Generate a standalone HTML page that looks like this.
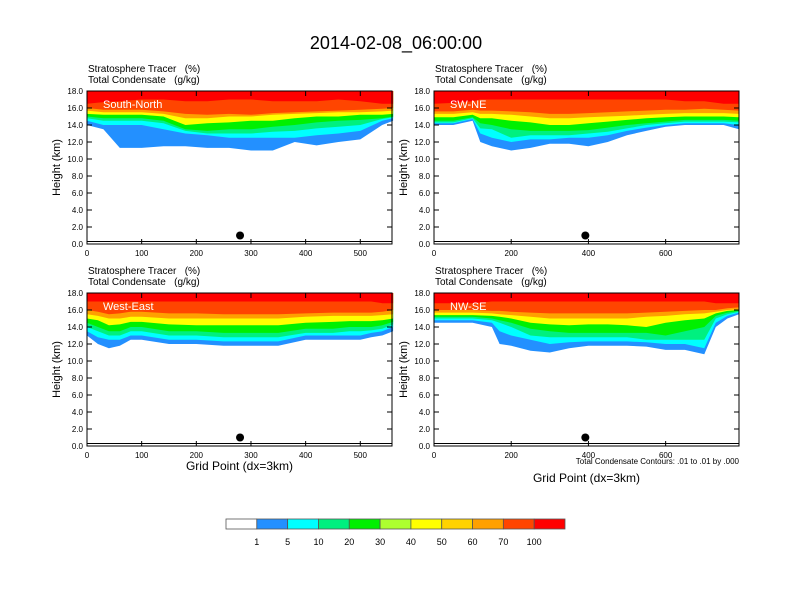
<!DOCTYPE html>
<html><head><meta charset="utf-8">
<style>
body{margin:0;background:#fff;}
svg{display:block;font-family:"Liberation Sans",Arial,sans-serif;}
text{white-space:pre;}
</style></head>
<body>
<svg id="chart" width="792" height="612" viewBox="0 0 792 612">
<text x="396" y="49" text-anchor="middle" font-size="18">2014-02-08_06:00:00</text>
</svg>
<script>
const levels=[1,5,10,20,40,60,70,100];
const levelColors=["#2390ff","#00ffff","#00f07f","#00f000","#ffff00","#ffa000","#ff4500","#ff0000"];
const cbLabels=["1","5","10","20","30","40","50","60","70","100"];
const cbColors=["#ffffff","#2390ff","#00ffff","#00f07f","#00f000","#adff2f","#ffff00","#ffd200","#ffa000","#ff4500","#ff0000"];
const yTicks=[0,2,4,6,8,10,12,14,16,18];

const tlX=[0,30,60,100,140,180,220,260,300,340,380,420,460,500,540,560];
const tlL=[
[14,13.5,11.3,11.3,11.5,11.5,11.3,11.3,11,11,12,11.6,12,12.3,14,14.5],
[14.5,14,14,14,13.5,13,12.8,12.5,12.5,12.5,12.5,12.8,13,13.3,14.5,14.8],
[14.8,14.5,14.5,14.5,14.2,13.3,13,13,13,13.2,13.3,13.6,13.8,14,14.7,14.9],
[15,14.8,14.8,14.8,14.5,13.5,13.3,13.5,13.5,13.8,14,14.3,14.5,14.6,14.8,15],
[15.3,15.2,15.2,15.2,15,14,14.2,14.3,14.5,14.5,14.8,15,15,15.2,15.2,15.3],
[15.7,15.5,15.5,15.5,15.3,14.8,14.8,15,15,15.2,15.3,15.4,15.5,15.5,15.6,15.7],
[16,15.8,15.8,15.8,15.6,15.3,15.2,15.3,15.2,15.4,15.5,15.6,15.7,15.8,15.9,16],
[16.5,16.7,16.8,17,17,16.8,16.8,17,17,16.8,16.8,16.8,17,16.8,16.5,16.5]];

const trX=[0,50,100,120,150,200,250,300,350,400,450,500,550,600,650,700,750,790];
const trL=[
[14,14,14.5,12,11.5,11,11.3,11.8,11.8,11.5,12,12.8,13.3,13.8,14,14,14,13.5],
[14.2,14.2,14.7,13,12.5,12,12.3,12.3,12.5,12.5,12.8,13.3,13.7,14,14.2,14.2,14.2,14],
[14.3,14.3,14.8,13.6,13.5,12.5,12.8,12.8,12.8,13,13.2,13.6,14,14.2,14.4,14.4,14.4,14.3],
[14.5,14.5,14.9,14.2,14,13.5,13.3,13.3,13.3,13.4,13.7,14,14.2,14.4,14.6,14.6,14.6,14.5],
[14.9,14.9,15.2,14.8,14.8,14.5,14.3,14,14,14.2,14.4,14.6,14.8,14.9,15,15,15,14.9],
[15.3,15.3,15.5,15.3,15.3,15.2,15,14.8,14.8,14.9,15,15.1,15.2,15.3,15.4,15.4,15.4,15.3],
[15.6,15.6,15.8,15.7,15.7,15.6,15.5,15.3,15.3,15.4,15.5,15.6,15.7,15.8,15.8,15.9,15.8,15.7],
[16.5,16.6,16.8,17,17,17,17,17,17,17,17,17,17,17,16.8,16.8,16.5,16.5]];

const blX=[0,20,40,60,80,100,150,200,250,300,350,400,450,480,500,520,540,560];
const blL=[
[13,12,11.5,11.8,12.5,12.5,12,12,11.8,11.8,11.8,12.5,12.5,12.5,12.5,12.8,13,13.5],
[13.5,12.8,12.5,12.5,13,13,12.5,12.5,12.3,12.3,12.3,13,13,13,13,13.3,13.5,14],
[14,13.5,13,13,13.5,13.5,13,13,12.8,12.8,12.8,13.3,13.3,13.5,13.5,13.6,13.8,14.3],
[14.5,14,13.5,13.5,14,14,13.5,13.5,13.3,13.3,13.3,13.8,13.8,14,14,14,14.2,14.6],
[15,14.8,14.2,14.3,14.6,14.6,14.3,14.2,14.2,14.2,14.2,14.5,14.6,14.7,14.7,14.7,14.8,15],
[15.5,15.3,15,15,15.2,15.2,15,15,15,15,15,15.2,15.3,15.3,15.3,15.3,15.4,15.5],
[16,15.8,15.5,15.6,15.8,15.8,15.6,15.6,15.5,15.5,15.5,15.6,15.7,15.7,15.7,15.7,15.8,16],
[17,17,17,17,17,17,17,17,17,17,17,17,17,17,17,17,16.8,16.8]];

const brX=[0,100,150,170,200,250,300,350,400,450,500,550,600,650,700,730,760,790];
const brL=[
[14.5,14.5,14,12,11.8,11.2,11,11.5,11.8,11.8,11.8,11.7,11.3,11.3,10.8,14,15,15.5],
[14.8,14.8,14.5,13.5,13,12.5,12,12.2,12.3,12.3,12.3,12.2,12,12,11.5,14.5,15.3,15.7],
[15,15,14.8,14.5,14,13,12.8,12.8,12.8,12.8,12.8,12.5,12.5,12.5,12.5,15,15.5,15.8],
[15.2,15.2,15,14.8,14.5,13.8,13.5,13.3,13.3,13.3,13.3,13.3,13,13.5,14,15.3,15.7,15.9],
[15.4,15.4,15.3,15.2,15,14.5,14.3,14.2,14.3,14.3,14.2,14,14.5,14.8,15,15.6,15.9,16],
[15.7,15.7,15.6,15.5,15.4,15.2,15,15,15,15,15,15.2,15.3,15.5,15.6,15.8,16,16.1],
[16,16,15.9,15.9,15.8,15.7,15.6,15.6,15.6,15.6,15.6,15.7,15.8,15.9,16,16,16.2,16.3],
[16.8,16.8,17,17,17,17,17,17,17,17,17,17,17,17,17,16.8,16.8,16.8]];

const panels=[
 {name:"south-north",label:"South-North",x0:87,x1:392,y0:91,y1:244,xmax:558,ticks:[0,100,200,300,400,500],xs:tlX,L:tlL,dot:280,xtitle:null},
 {name:"sw-ne",label:"SW-NE",x0:434,x1:739,y0:91,y1:244,xmax:790,ticks:[0,200,400,600],xs:trX,L:trL,dot:392,xtitle:null},
 {name:"west-east",label:"West-East",x0:87,x1:392,y0:293,y1:446,xmax:558,ticks:[0,100,200,300,400,500],xs:blX,L:blL,dot:280,xtitle:470},
 {name:"nw-se",label:"NW-SE",x0:434,x1:739,y0:293,y1:446,xmax:790,ticks:[0,200,400,600],xs:brX,L:brL,dot:392,xtitle:482}
];
const svg=document.getElementById('chart');
const NS="http://www.w3.org/2000/svg";
function mk(t,a,txt){const e=document.createElementNS(NS,t);for(const k in a)e.setAttribute(k,a[k]);if(txt!=null)e.textContent=txt;svg.appendChild(e);return e;}
panels.forEach(p=>{
 const sx=v=>p.x0+(v/p.xmax)*(p.x1-p.x0);
 const sy=v=>p.y1-(v/18)*(p.y1-p.y0);
 let t=mk('text',{x:p.x0+1,y:p.y0-19,'font-size':10},"Stratosphere Tracer   (%)");
 
 
 t=mk('text',{x:p.x0+1,y:p.y0-8,'font-size':10},"Total Condensate   (g/kg)");
 
 
 p.L.forEach((arr,k)=>{
  let d="M"+sx(p.xs[0])+","+sy(18);
  p.xs.forEach((x,i)=>{d+=" L"+sx(x).toFixed(1)+","+sy(arr[i]).toFixed(1);});
  d+=" L"+sx(p.xs[p.xs.length-1])+","+sy(18)+" Z";
  const e=mk('path',{d:d,fill:levelColors[k],stroke:'none'});
  
  
 });
 let l=mk('text',{x:p.x0+16,y:p.y0+17,'font-size':11,fill:'#fff'},p.label);
 
 
 let g=mk('line',{x1:p.x0,x2:p.x1,y1:sy(0.3),y2:sy(0.3),stroke:'#000','stroke-width':1});
 
 
 let c=mk('circle',{cx:sx(p.dot),cy:sy(1),r:4,fill:'#000'});
 
 
 let r=mk('rect',{x:p.x0,y:p.y0,width:p.x1-p.x0,height:p.y1-p.y0,fill:'none',stroke:'#000','stroke-width':1});
 
 
 yTicks.forEach(v=>{
  mk('line',{x1:p.x0,x2:p.x0+5,y1:sy(v),y2:sy(v),stroke:'#000'});
  mk('line',{x1:p.x1,x2:p.x1-5,y1:sy(v),y2:sy(v),stroke:'#000'});
  let tl=mk('text',{x:p.x0-4,y:sy(v)+3,'font-size':8,'text-anchor':'end'},v.toFixed(1));
  
  
 });
 p.ticks.forEach(v=>{
  mk('line',{x1:sx(v),x2:sx(v),y1:p.y1,y2:p.y1-5,stroke:'#000'});
  mk('line',{x1:sx(v),x2:sx(v),y1:p.y0,y2:p.y0+5,stroke:'#000'});
  let tl=mk('text',{x:sx(v),y:p.y1+12,'font-size':8,'text-anchor':'middle'},String(v));
  
  
 });
 let yt=mk('text',{x:0,y:0,'font-size':11,'text-anchor':'middle',transform:`translate(${p.x0-27},${(p.y0+p.y1)/2}) rotate(-90)`},"Height (km)");
 
 
 if(p.xtitle){
  let xt=mk('text',{x:(p.x0+p.x1)/2,y:p.xtitle,'font-size':12,'text-anchor':'middle'},"Grid Point (dx=3km)");
  
  
 }
});
let note=mk('text',{x:739,y:464,'font-size':8,'text-anchor':'end'},"Total Condensate Contours: .01 to .01 by .000");


const cbx=226,cbw=339/11;
cbColors.forEach((col,i)=>{
 const e=mk('rect',{x:cbx+i*cbw,y:519,width:cbw,height:10,fill:col,stroke:'#555','stroke-width':0.8});
 
 
});
cbLabels.forEach((s,i)=>{
 const e=mk('text',{x:cbx+(i+1)*cbw,y:545,'font-size':9,'text-anchor':'middle'},s);
 
 
});
</script>
</body></html>
